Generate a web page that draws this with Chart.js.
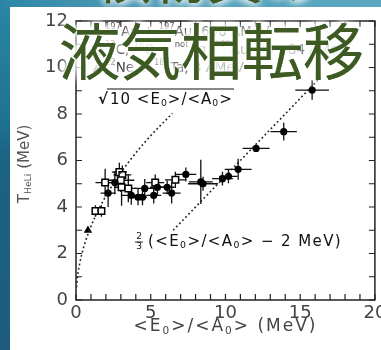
<!DOCTYPE html>
<html>
<head>
<meta charset="utf-8">
<script src="https://cdn.jsdelivr.net/npm/chart.js@4/dist/chart.umd.min.js"></script>
<style>
  html, body { margin: 0; padding: 0; background: #1d6586; }
  #wrap { width: 381px; height: 350px; }
</style>
</head>
<body>
<div id="wrap"><canvas id="c" width="381" height="350"></canvas></div>
<script>
// 197Au + 197Au, 600 AMeV (filled circles)
const auX    = [2.15, 2.6, 3.7, 4.15, 4.45, 4.6, 5.2, 5.45, 6.1, 6.4, 7.35, 8.35, 8.5, 9.8, 10.2, 10.85, 12.05, 13.9, 15.8];
const auY    = [4.6, 5.05, 4.5, 4.42, 4.42, 4.8, 4.5, 4.85, 4.85, 4.6, 5.4, 5.08, 5.0, 5.22, 5.32, 5.62, 6.52, 7.24, 9.03];
const auXErr = [0.5, 0.4, 0.7, 0.3, 0.3, 0.7, 0.5, 0.5, 0.5, 0.6, 0.7, 0.8, 1.0, 0.7, 0.6, 0.9, 0.9, 0.88, 1.13];
const auYErr = [0.6, 0.5, 0.4, 0.35, 0.35, 0.4, 0.35, 0.35, 0.3, 0.45, 0.3, 0.95, 0.3, 0.3, 0.3, 0.45, 0.15, 0.38, 0.42];

// 12C, 18O + natAg, 197Au, 30 - 84 AMeV (open squares)
const coX    = [1.3, 1.7, 1.95, 2.9, 3.1, 3.0, 3.05, 3.5, 5.3, 6.65];
const coY    = [3.83, 3.83, 5.05, 5.5, 5.38, 5.15, 4.85, 4.8, 5.05, 5.17];
const coXErr = [0.1, 0.1, 0.65, 0.5, 0.6, 0.9, 0.5, 0.5, 0.6, 0.7];
const coYErr = [0.25, 0.25, 0.6, 0.4, 0.4, 0.5, 0.8, 0.6, 0.35, 0.35];

// 22Ne + 181Ta, 8 AMeV (triangle)
const neX = [0.8];
const neY = [3.0];

// sqrt(10 <E0>/<A0>) guide curve
const sqrtX = [0.03, 0.1, 0.4, 0.9, 1.6, 2.5, 3.6, 4.9, 6.45];
const sqrtY = [0.55, 1.0, 2.0, 3.0, 4.0, 5.0, 6.0, 7.0, 8.03];

// 2/3 (<E0>/<A0> - 2 MeV) guide line
const linX = [6.5, 16.5];
const linY = [3.0, 9.67];

// axis ticks
const xTicks = [0, 5, 10, 15, 20];
const yTicks = [0, 2, 4, 6, 8, 10, 12];

const pts = (xs, ys) => xs.map((x, i) => ({ x: x, y: ys[i] }));

const FONT = "'DejaVu Sans', sans-serif";
const GREY = '#444';

// draw a run of text pieces, some of them raised/lowered and smaller
function richText(ctx, x, y, parts, size, spacing) {
  let cx = x;
  ctx.letterSpacing = (spacing || 0) + 'px';
  parts.forEach(p => {
    const s = p.sup || p.sub ? size * 0.62 : size;
    ctx.font = s + 'px ' + FONT;
    const dy = p.sup ? -size * 0.38 : (p.sub ? size * 0.25 : 0);
    ctx.fillText(p.t, cx, y + dy);
    cx += ctx.measureText(p.t).width;
  });
  ctx.letterSpacing = '0px';
  return cx;
}
function richWidth(ctx, parts, size, spacing) {
  ctx.letterSpacing = (spacing || 0) + 'px';
  let w = 0;
  parts.forEach(p => { ctx.font = (p.sup || p.sub ? size * 0.62 : size) + 'px ' + FONT; w += ctx.measureText(p.t).width; });
  ctx.letterSpacing = '0px';
  return w;
}

const errorBars = {
  id: 'errorBars',
  beforeDatasetsDraw(chart) {
    const { ctx, scales: { x, y } } = chart;
    ctx.save();
    ctx.strokeStyle = '#111';
    ctx.lineWidth = 1.3;
    const draw = (xs, ys, xe, ye) => {
      xs.forEach((xv, i) => {
        const px = x.getPixelForValue(xv), py = y.getPixelForValue(ys[i]);
        ctx.beginPath();
        ctx.moveTo(x.getPixelForValue(xv - xe[i]), py);
        ctx.lineTo(x.getPixelForValue(xv + xe[i]), py);
        ctx.moveTo(px, y.getPixelForValue(ys[i] - ye[i]));
        ctx.lineTo(px, y.getPixelForValue(ys[i] + ye[i]));
        ctx.stroke();
      });
    };
    draw(auX, auY, auXErr, auYErr);
    draw(coX, coY, coXErr, coYErr);
    ctx.restore();
  }
};

const frame = {
  id: 'frame',
  beforeDraw(chart) {
    const ctx = chart.ctx;
    ctx.save();
    const g = ctx.createLinearGradient(0, 0, 0, 350);
    g.addColorStop(0, '#2b86a6');
    g.addColorStop(0.35, '#1f7193');
    g.addColorStop(0.45, '#1c6283');
    g.addColorStop(1, '#1d5c7c');
    ctx.fillStyle = g;
    ctx.fillRect(0, 0, 381, 350);
    const h = ctx.createLinearGradient(0, 0, 381, 0);
    h.addColorStop(0, 'rgba(255,255,255,0)');
    h.addColorStop(0.6, 'rgba(160,215,230,0.35)');
    h.addColorStop(1, 'rgba(140,200,220,0.5)');
    ctx.fillStyle = h;
    ctx.fillRect(0, 0, 381, 8);
    ctx.fillStyle = '#ffffff';
    ctx.fillRect(10, 7, 371, 343);
    ctx.restore();
  },
  afterDraw(chart) {
    const { ctx, chartArea: a, scales: { x, y } } = chart;
    ctx.save();
    // frame and inward ticks on all four sides
    ctx.strokeStyle = '#222';
    ctx.lineWidth = 1.5;
    ctx.strokeRect(a.left, a.top, a.right - a.left, a.bottom - a.top);
    ctx.lineWidth = 1.2;
    ctx.beginPath();
    for (let v = 0; v <= 20; v++) {
      const px = x.getPixelForValue(v);
      ctx.moveTo(px, a.bottom); ctx.lineTo(px, a.bottom - 6);
      ctx.moveTo(px, a.top); ctx.lineTo(px, a.top + 6);
    }
    for (let v = 0; v <= 12; v++) {
      const py = y.getPixelForValue(v);
      ctx.moveTo(a.left, py); ctx.lineTo(a.left + 6, py);
      ctx.moveTo(a.right, py); ctx.lineTo(a.right - 6, py);
    }
    ctx.stroke();

    ctx.textBaseline = 'middle';
    // x title
    ctx.fillStyle = GREY;
    const xParts = [{ t: '<E' }, { t: '0', sub: true }, { t: '>/<A' }, { t: '0', sub: true }, { t: '> (MeV)' }];
    const xw = richWidth(ctx, xParts, 17, 2);
    richText(ctx, (a.left + a.right) / 2 - xw / 2, 327, xParts, 17, 2);

    // y title: T_HeLi (MeV)
    ctx.save();
    ctx.translate(25, 164);
    ctx.rotate(-Math.PI / 2);
    ctx.fillStyle = '#555';
    const yParts = [{ t: 'T' }, { t: 'HeLi', sub: true }, { t: ' (MeV)' }];
    const yw = richWidth(ctx, yParts, 15, 0);
    richText(ctx, -yw / 2, 0, yParts, 15, 0);
    ctx.restore();

    // legend
    ctx.fillStyle = '#111';
    ctx.strokeStyle = '#111';
    const lx = 97;
    ctx.beginPath(); ctx.arc(lx, 32, 3.5, 0, Math.PI * 2); ctx.fill();
    ctx.lineWidth = 1.4;
    ctx.strokeRect(lx - 4, 50 - 4, 8, 8);
    ctx.beginPath(); ctx.moveTo(lx, 64); ctx.lineTo(lx + 4.5, 72); ctx.lineTo(lx - 4.5, 72); ctx.closePath(); ctx.fill();
    ctx.fillStyle = '#333';
    richText(ctx, 105, 32, [{ t: '197', sup: true }, { t: 'Au + ' }, { t: '197', sup: true }, { t: 'Au, 600 AMeV' }], 13.5);
    richText(ctx, 105, 50, [{ t: '12', sup: true }, { t: 'C, ' }, { t: '18', sup: true }, { t: 'O + ' }, { t: 'not', sup: true }, { t: 'Ag, ' }, { t: '197', sup: true }, { t: 'Au, 30 - 84 AMeV' }], 13.5);
    richText(ctx, 105, 68, [{ t: '22', sup: true }, { t: 'Ne + ' }, { t: '181', sup: true }, { t: 'Ta, 8 AMeV' }], 13.5);

    // curve labels
    ctx.fillStyle = '#111';
    ctx.strokeStyle = '#111';
    ctx.font = 'bold 15px ' + FONT;
    ctx.fillText('\u221A', 98, 100);
    ctx.lineWidth = 1.2;
    ctx.beginPath(); ctx.moveTo(107, 89); ctx.lineTo(234, 89); ctx.stroke();
    richText(ctx, 110, 100, [{ t: '10 <E' }, { t: '0', sub: true }, { t: '>/<A' }, { t: '0', sub: true }, { t: '>' }], 15, 1);

    ctx.font = '9px ' + FONT;
    ctx.textAlign = 'center';
    ctx.fillText('2', 139, 237);
    ctx.fillText('3', 139, 247);
    ctx.beginPath(); ctx.moveTo(135, 242); ctx.lineTo(143, 242); ctx.lineWidth = 0.9; ctx.stroke();
    ctx.textAlign = 'left';
    richText(ctx, 148, 242, [{ t: '(<E' }, { t: '0', sub: true }, { t: '>/<A' }, { t: '0', sub: true }, { t: '> \u2212 2 MeV)' }], 15, 1.4);

    // headline over the figure
    ctx.fillStyle = '#3c5a22';
    ctx.shadowColor = 'rgba(255,255,255,1)';
    ctx.shadowBlur = 8;
    ctx.textBaseline = 'ideographic';
    ctx.font = "56px 'Noto Sans CJK JP', sans-serif";
    for (let k = 0; k < 3; k++) ctx.fillText('核物質の', 95, 5);
    ctx.textBaseline = 'middle';
    ctx.font = "61px 'Noto Sans CJK JP', sans-serif";
    for (let k = 0; k < 4; k++) ctx.fillText('液気相転移', 59, 52);
    ctx.restore();
  }
};

const dotted = { borderColor: '#222', borderWidth: 1.6, borderDash: [1.8, 2.6], pointRadius: 0, fill: false, showLine: true };

new Chart(document.getElementById('c'), {
  type: 'scatter',
  data: {
    datasets: [
      Object.assign({ type: 'line', data: pts(sqrtX, sqrtY), cubicInterpolationMode: 'monotone' }, dotted),
      Object.assign({ type: 'line', data: pts(linX, linY) }, dotted),
      { data: pts(auX, auY), pointStyle: 'circle', pointRadius: 3.6, backgroundColor: '#000', borderColor: '#000', borderWidth: 0 },
      { data: pts(coX, coY), pointStyle: 'rect', pointRadius: 4.6, backgroundColor: '#fff', borderColor: '#000', borderWidth: 1.5 },
      { data: pts(neX, neY), pointStyle: 'triangle', pointRadius: 4.8, backgroundColor: '#000', borderColor: '#000', borderWidth: 0 }
    ]
  },
  options: {
    responsive: false,
    devicePixelRatio: 1,
    animation: false,
    events: [],
    layout: { padding: { left: 0, top: 21, right: 4, bottom: 0 } },
    plugins: { legend: { display: false }, tooltip: { enabled: false } },
    scales: {
      x: {
        type: 'linear', min: 0, max: 20,
        afterFit(s) { s.height = 50; s.paddingLeft = 0; s.paddingRight = 0; },
        afterBuildTicks(s) { s.ticks = xTicks.map(v => ({ value: v })); },
        grid: { display: false, drawTicks: false },
        border: { display: false },
        ticks: { padding: 3, color: GREY, font: { family: FONT, size: 18 }, maxRotation: 0 },
        title: { display: false }
      },
      y: {
        type: 'linear', min: 0, max: 12,
        afterFit(s) { s.width = 76; s.paddingTop = 0; s.paddingBottom = 0; },
        afterBuildTicks(s) { s.ticks = yTicks.map(v => ({ value: v })); },
        grid: { display: false, drawTicks: false },
        border: { display: false },
        ticks: { padding: 8, color: GREY, font: { family: FONT, size: 18 } }
      }
    }
  },
  plugins: [frame, errorBars]
});
</script>
</body>
</html>
